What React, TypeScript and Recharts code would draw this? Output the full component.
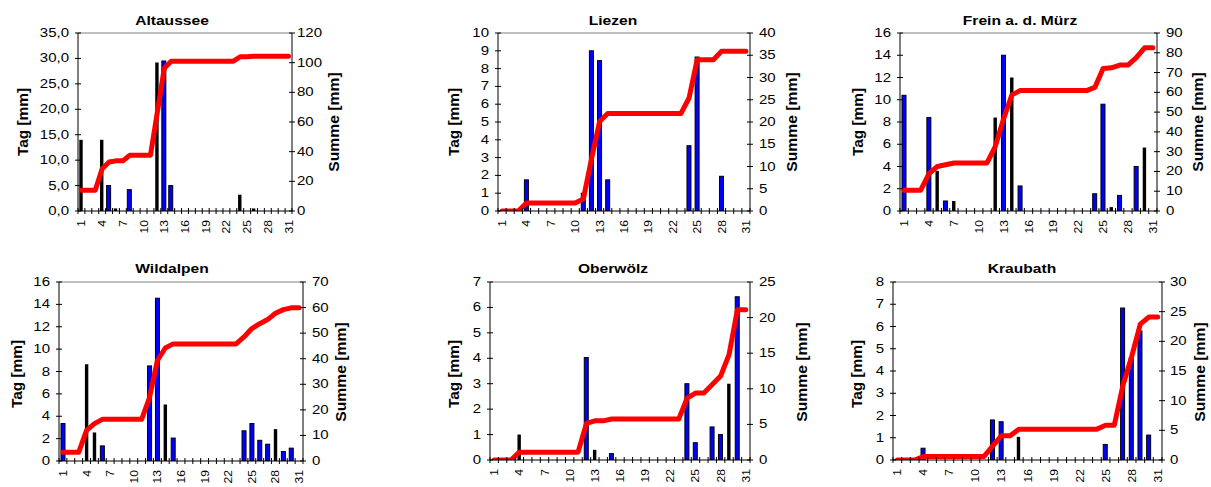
import React from 'react';
import { ComposedChart, Bar, Line, XAxis, YAxis, ReferenceLine } from 'recharts';

const days = [1, 2, 3, 4, 5, 6, 7, 8, 9, 10, 11, 12, 13, 14, 15, 16, 17, 18, 19, 20, 21, 22, 23, 24, 25, 26, 27, 28, 29, 30, 31];
const labelDays = [1, 4, 7, 10, 13, 16, 19, 22, 25, 28, 31];

// k = black bar, b = blue bar
const altausseeTag = [14.0, null, null, 14.0, 5.0, 0.5, null, 4.2, null, null, null, 29.2, 29.5, 5.0, null, null, null, null, null, null, null, null, null, 3.2, null, 0.5, null, null, null, null, null];
const altausseeType = ['k', '', '', 'k', 'b', 'k', '', 'b', '', '', '', 'k', 'b', 'b', '', '', '', '', '', '', '', '', '', 'k', '', 'k', '', '', '', '', ''];
const altausseeSum = [14.0, 14.0, 14.0, 28.5, 33.0, 33.8, 33.8, 37.6, 37.6, 37.6, 37.6, 66.8, 96.3, 101.0, 101.0, 101.0, 101.0, 101.0, 101.0, 101.0, 101.0, 101.0, 101.0, 104.0, 104.0, 104.4, 104.4, 104.4, 104.4, 104.4, 104.4];

const liezenTag = [null, null, null, 1.75, null, null, null, null, null, null, 1.0, 9.0, 8.45, 1.75, null, null, null, null, null, null, null, null, null, 3.67, 8.65, null, null, 1.95, null, null, null];
const liezenType = ['', '', '', 'b', '', '', '', '', '', '', 'b', 'b', 'b', 'b', '', '', '', '', '', '', '', '', '', 'b', 'b', '', '', 'b', '', '', ''];
const liezenSum = [0, 0, 0, 1.8, 1.8, 1.8, 1.8, 1.8, 1.8, 1.8, 2.7, 11.7, 20.1, 21.9, 21.9, 21.9, 21.9, 21.9, 21.9, 21.9, 21.9, 21.9, 21.9, 25.4, 34.0, 34.0, 34.0, 35.9, 35.9, 35.9, 35.9];

const freinTag = [10.4, null, null, 8.4, 3.6, 0.9, 0.9, null, null, null, null, 8.4, 14.0, 12.0, 2.25, null, null, null, null, null, null, null, null, 1.55, 9.6, 0.35, 1.4, null, 4.0, 5.7, null];
const freinType = ['b', '', '', 'b', 'k', 'b', 'k', '', '', '', '', 'k', 'b', 'k', 'b', '', '', '', '', '', '', '', '', 'b', 'b', 'k', 'b', '', 'b', 'k', ''];
const freinSum = [10.5, 10.5, 10.5, 18.9, 22.5, 23.4, 24.3, 24.3, 24.3, 24.3, 24.3, 32.7, 46.7, 58.7, 60.9, 60.9, 60.9, 60.9, 60.9, 60.9, 60.9, 60.9, 60.9, 62.5, 72.1, 72.4, 73.8, 73.8, 77.5, 82.5, 82.5];

const wildalpenTag = [3.35, null, null, 8.65, 2.55, 1.35, null, null, null, null, null, 8.5, 14.55, 5.05, 2.05, null, null, null, null, null, null, null, null, 2.7, 3.35, 1.85, 1.5, 2.85, 0.85, 1.15, null];
const wildalpenType = ['b', '', '', 'k', 'k', 'b', '', '', '', '', '', 'b', 'b', 'k', 'b', '', '', '', '', '', '', '', '', 'b', 'b', 'b', 'b', 'k', 'b', 'b', ''];
const wildalpenSum = [3.4, 3.4, 3.4, 12.0, 14.6, 16.3, 16.3, 16.3, 16.3, 16.3, 16.3, 24.8, 39.3, 44.2, 45.8, 45.8, 45.8, 45.8, 45.8, 45.8, 45.8, 45.8, 45.8, 48.5, 51.8, 53.7, 55.3, 57.8, 59.2, 59.9, 59.9];

const oberwoelzTag = [null, null, null, 1.0, null, null, null, null, null, null, null, 4.03, 0.4, null, 0.25, null, null, null, null, null, null, null, null, 3.0, 0.68, null, 1.3, 1.0, 3.0, 6.42, null];
const oberwoelzType = ['', '', '', 'k', '', '', '', '', '', '', '', 'b', 'k', '', 'b', '', '', '', '', '', '', '', '', 'b', 'b', '', 'b', 'b', 'k', 'b', ''];
const oberwoelzSum = [0, 0, 0, 1.1, 1.1, 1.1, 1.1, 1.1, 1.1, 1.1, 1.1, 5.15, 5.5, 5.5, 5.75, 5.75, 5.75, 5.75, 5.75, 5.75, 5.75, 5.75, 5.75, 8.7, 9.4, 9.4, 10.6, 11.8, 14.8, 21.1, 21.1];

const kraubathTag = [null, null, null, 0.53, null, null, null, null, null, null, null, 1.8, 1.72, null, 1.04, null, null, null, null, null, null, null, null, null, 0.7, null, 6.83, 4.6, 5.8, 1.12, null];
const kraubathType = ['', '', '', 'b', '', '', '', '', '', '', '', 'b', 'b', '', 'k', '', '', '', '', '', '', '', '', '', 'b', '', 'b', 'b', 'b', 'b', ''];
const kraubathSum = [0, 0, 0, 0.6, 0.6, 0.6, 0.6, 0.6, 0.6, 0.6, 0.6, 2.4, 4.1, 4.1, 5.2, 5.2, 5.2, 5.2, 5.2, 5.2, 5.2, 5.2, 5.2, 5.2, 5.85, 5.85, 12.6, 17.4, 22.9, 24.1, 24.1];

const stations = [
  { title: 'Altaussee', tag: altausseeTag, type: altausseeType, sum: altausseeSum, leftTicks: [0, 5, 10, 15, 20, 25, 30, 35], rightTicks: [0, 20, 40, 60, 80, 100, 120], comma: true },
  { title: 'Liezen', tag: liezenTag, type: liezenType, sum: liezenSum, leftTicks: [0, 1, 2, 3, 4, 5, 6, 7, 8, 9, 10], rightTicks: [0, 5, 10, 15, 20, 25, 30, 35, 40], comma: false },
  { title: 'Frein a. d. Mürz', tag: freinTag, type: freinType, sum: freinSum, leftTicks: [0, 2, 4, 6, 8, 10, 12, 14, 16], rightTicks: [0, 10, 20, 30, 40, 50, 60, 70, 80, 90], comma: false },
  { title: 'Wildalpen', tag: wildalpenTag, type: wildalpenType, sum: wildalpenSum, leftTicks: [0, 2, 4, 6, 8, 10, 12, 14, 16], rightTicks: [0, 10, 20, 30, 40, 50, 60, 70], comma: false },
  { title: 'Oberwölz', tag: oberwoelzTag, type: oberwoelzType, sum: oberwoelzSum, leftTicks: [0, 1, 2, 3, 4, 5, 6, 7], rightTicks: [0, 5, 10, 15, 20, 25], comma: false },
  { title: 'Kraubath', tag: kraubathTag, type: kraubathType, sum: kraubathSum, leftTicks: [0, 1, 2, 3, 4, 5, 6, 7, 8], rightTicks: [0, 5, 10, 15, 20, 25, 30], comma: false },
];

const layouts = [
  { plot: { l: 78, r: 292, t: 33, b: 211 }, title: [172, 20], tagL: [23, 122], sumL: [334, 122], rGap: 5 },
  { plot: { l: 498, r: 750, t: 33, b: 211 }, title: [613, 20], tagL: [454, 122], sumL: [792, 122], rGap: 9 },
  { plot: { l: 900, r: 1157, t: 33, b: 211 }, title: [1020, 20], tagL: [858, 122], sumL: [1198, 122], rGap: 9 },
  { plot: { l: 59, r: 303, t: 282, b: 461 }, title: [172, 268], tagL: [17, 374], sumL: [341, 372], rGap: 9 },
  { plot: { l: 490, r: 750, t: 282, b: 460 }, title: [613, 268], tagL: [454, 374], sumL: [802, 372], rGap: 9 },
  { plot: { l: 893, r: 1162, t: 282, b: 460 }, title: [1022, 268], tagL: [857, 374], sumL: [1200, 372], rGap: 8 },
];

const FONT = '"Liberation Sans", Arial, sans-serif';

function Panel({ st, lay }: any) {
  const { l, r, t, b } = lay.plot;
  const padL = 60, padR = 50, padT = 33, padB = 30;
  const W = r - l + padL + padR;
  const H = b - t + padT + padB;
  const bw = (r - l) / 31;
  const data = days.map((d, i) => ({ day: d, tag: st.tag[i], typ: st.type[i], sum: st.sum[i] }));
  const leftMax = st.leftTicks[st.leftTicks.length - 1];
  const rightMax = st.rightTicks[st.rightTicks.length - 1];
  const fmtL = (v: number) => (st.comma ? v.toFixed(1).replace('.', ',') : String(v));

  const xTick = (props: any) => {
    const { x, y, payload } = props;
    const v = payload.value;
    return (
      <g>
        <line x1={x - bw / 2} x2={x - bw / 2} y1={y - 3} y2={y + 3} stroke="#000" />
        {v === 31 && <line x1={x + bw / 2} x2={x + bw / 2} y1={y - 3} y2={y + 3} stroke="#000" />}
        {labelDays.includes(v) && (
          <text transform={`translate(${x + 4},${y + 9}) rotate(-90) scale(1.1,1)`} textAnchor="end" fontSize={11} fontFamily={FONT} fill="#000">
            {v}
          </text>
        )}
      </g>
    );
  };
  const leftTick = (props: any) => {
    const { x, y, payload } = props;
    return (
      <g>
        <line x1={x - 3} x2={x + 3} y1={y} y2={y} stroke="#000" />
        <text transform={`translate(${x - 9},${y + 4}) scale(1.25,1)`} textAnchor="end" fontSize={12} fontFamily={FONT} fill="#000">
          {fmtL(payload.value)}
        </text>
      </g>
    );
  };
  const rightTick = (props: any) => {
    const { x, y, payload } = props;
    return (
      <g>
        <line x1={x - 3} x2={x + 3} y1={y} y2={y} stroke="#000" />
        <text transform={`translate(${x + lay.rGap},${y + 4}) scale(1.25,1)`} textAnchor="start" fontSize={12} fontFamily={FONT} fill="#000">
          {payload.value}
        </text>
      </g>
    );
  };
  const barShape = (props: any) => {
    const { x, y, width, height, payload } = props;
    if (!height || height <= 0 || !payload) return <g />;
    if (payload.typ === 'k') {
      return <rect x={x + width / 2 - 1.7} y={y} width={3.4} height={height} fill="#000" />;
    }
    return <rect x={x} y={y} width={width} height={height} fill="#0000ff" stroke="#000" strokeWidth={1} />;
  };

  return (
    <div style={{ position: 'absolute', left: l - padL, top: t - padT }}>
      <ComposedChart width={W} height={H} data={data} margin={{ top: padT, right: 0, bottom: 0, left: 0 }}>
        <XAxis dataKey="day" height={padB} interval={0} tickLine={false} tickSize={0} tickMargin={0} axisLine={{ stroke: '#000' }} tick={xTick} />
        <YAxis yAxisId="left" width={padL} domain={[0, leftMax]} ticks={st.leftTicks} interval={0} tickLine={false} tickSize={0} tickMargin={0} axisLine={{ stroke: '#000' }} tick={leftTick} allowDataOverflow />
        <YAxis yAxisId="right" orientation="right" width={padR} domain={[0, rightMax]} ticks={st.rightTicks} interval={0} tickLine={false} tickSize={0} tickMargin={0} axisLine={{ stroke: '#000' }} tick={rightTick} allowDataOverflow />
        <ReferenceLine yAxisId="left" y={leftMax} stroke="#808080" strokeWidth={1} />
        <Bar yAxisId="left" dataKey="tag" barSize={4} shape={barShape} isAnimationActive={false} />
        <Line yAxisId="right" dataKey="sum" type="linear" stroke="#ff0000" strokeWidth={5} dot={false} activeDot={false} strokeLinecap="round" strokeLinejoin="round" isAnimationActive={false} />
      </ComposedChart>
    </div>
  );
}

const textBase: any = {
  position: 'absolute',
  whiteSpace: 'nowrap',
  fontFamily: FONT,
  fontWeight: 'bold',
  color: '#000',
  lineHeight: 1,
};

export default function App() {
  return (
    <div style={{ position: 'absolute', left: 0, top: 0, width: 1211, height: 487, background: '#fff', overflow: 'hidden' }}>
      {stations.map((st, i) => {
        const lay = layouts[i];
        return (
          <React.Fragment key={st.title}>
            <Panel st={st} lay={lay} />
            <div style={{ ...textBase, left: lay.title[0], top: lay.title[1], fontSize: 13, transform: 'translate(-50%,-50%) scaleX(1.2)' }}>{st.title}</div>
            <div style={{ ...textBase, left: lay.tagL[0], top: lay.tagL[1], fontSize: 14, transform: 'translate(-50%,-50%) rotate(-90deg) scaleX(1.1)' }}>Tag [mm]</div>
            <div style={{ ...textBase, left: lay.sumL[0], top: lay.sumL[1], fontSize: 14, transform: 'translate(-50%,-50%) rotate(-90deg) scaleX(1.12)' }}>Summe [mm]</div>
          </React.Fragment>
        );
      })}
    </div>
  );
}
